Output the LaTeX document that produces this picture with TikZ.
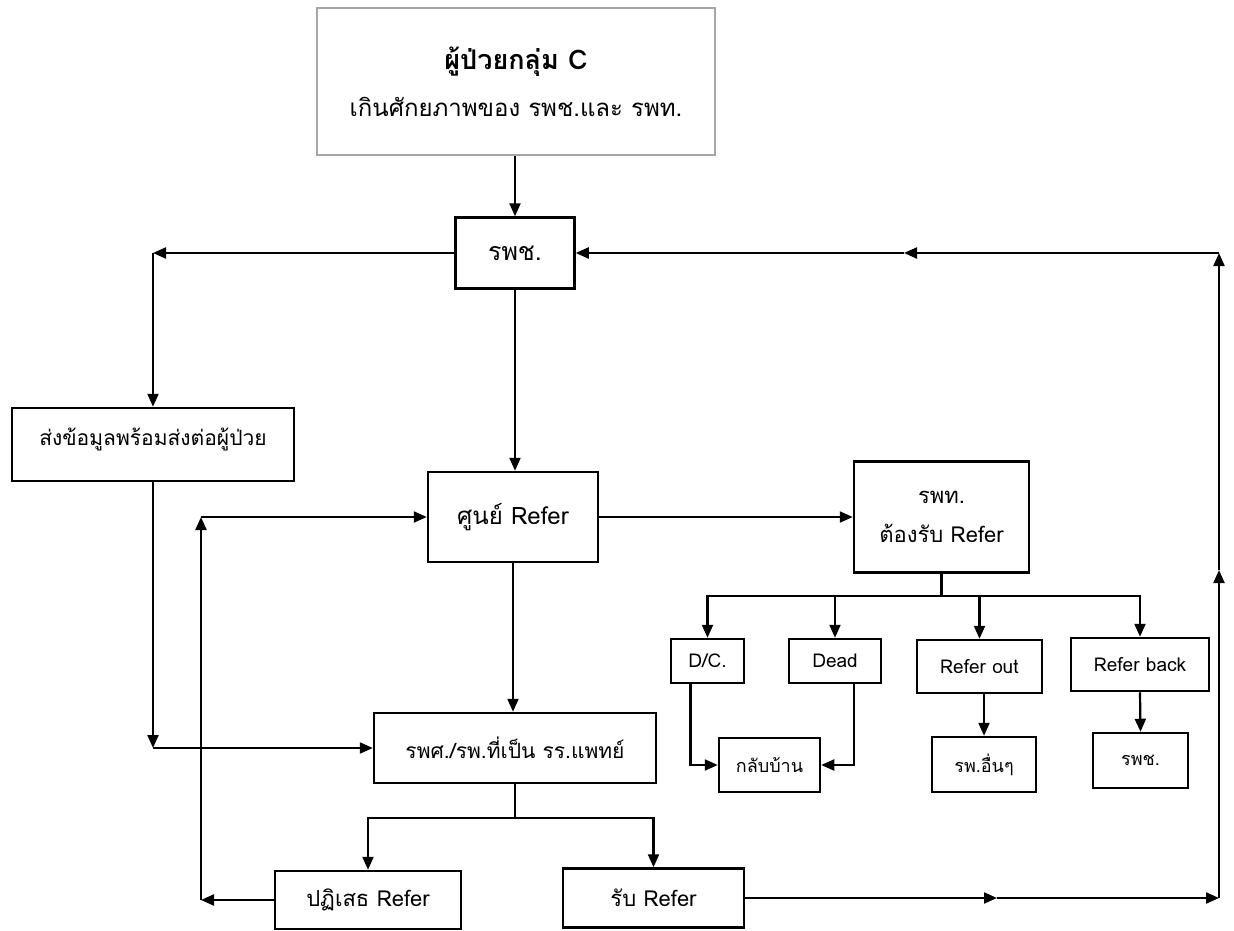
\documentclass[tikz,border=0pt]{standalone}
\usepackage{fontspec}
\setmainfont[Script=Thai]{Loma}
\usetikzlibrary{arrows.meta}

\tikzset{
  box/.style={draw, line width=2.5pt, align=center, inner sep=2pt,
              font=\fontsize{22}{27}\selectfont},
  smallbox/.style={box, font=\fontsize{19}{23}\selectfont},
  thaibox/.style={box, font=\fontsize{18}{22}\selectfont},
}

\begin{document}
\begin{tikzpicture}[x=1pt,y=-1pt]
\useasboundingbox (0,0) rectangle (1234,931);

\begin{scope}[every node/.style={box}]
	\node[draw=gray!70, minimum width=398pt, minimum height=147pt] (top) at (516,81.5)
	  {{\fontsize{27}{32}\selectfont\bfseries ผู้ป่วยกลุ่ม C}\\[20pt] {\fontsize{24}{28}\selectfont เกินศักยภาพของ รพช.และ รพท.}};
	\node[minimum width=119pt, minimum height=71pt, font=\fontsize{25}{30}\selectfont] (rpch) at (515,253) {รพช.};
	\node[minimum width=282pt, minimum height=73pt, text depth=16pt, font=\fontsize{21}{25}\selectfont] (send) at (153,444.5) {ส่งข้อมูลพร้อมส่งต่อผู้ป่วย};
	\node[minimum width=170pt, minimum height=90pt, font=\fontsize{24}{28}\selectfont] (center) at (513,517) {ศูนย์ Refer};
	\node[minimum width=175pt, minimum height=111pt] (rpt) at (941.5,517) {รพท.\\[12pt] ต้องรับ Refer};
	\node[minimum width=282pt, minimum height=70pt, font=\fontsize{21}{25}\selectfont] (rps) at (515,748) {รพศ./รพ.ที่เป็น รร.แพทย์};
	\node[minimum width=186pt, minimum height=58pt] (reject) at (368,900) {ปฏิเสธ Refer};
	\node[minimum width=181pt, minimum height=59pt] (accept) at (653.5,898) {รับ Refer};

	\node[smallbox, minimum width=73pt, minimum height=44pt] (dc) at (707.5,661) {D/C.};
	\node[smallbox, minimum width=92pt, minimum height=44pt] (dead) at (835,661) {Dead};
	\node[smallbox, minimum width=125pt, minimum height=53pt] (rout) at (979.5,666.5) {Refer out};
	\node[smallbox, minimum width=138pt, minimum height=53pt] (rback) at (1140,664.5) {Refer back};
	\node[thaibox, minimum width=101pt, minimum height=54pt] (home) at (769.5,765) {กลับบ้าน};
	\node[thaibox, minimum width=104pt, minimum height=55pt] (other) at (984,764.5) {รพ.อื่นๆ};
	\node[thaibox, minimum width=95pt, minimum height=55pt] (rpchback) at (1140.5,760.5) {รพช.};
\end{scope}

% bends and forks
\coordinate (sendtop) at (rpch.west -| send.north);
\coordinate (sendbot) at (send.south |- rps.west);
\coordinate (rejbend) at (201,900);
\coordinate (rejtop) at (rejbend |- center.west);
\coordinate (rpsfork) at (515,818);
\coordinate (rptfork) at (941.5,596);
\coordinate (rm1) at (997,898);
\coordinate (rc1) at (1219,898);
\coordinate (rm2) at (1219,570);
\coordinate (rc2) at (1219,253);
\coordinate (rm3) at (904,253);

\begin{scope}[line width=2.2pt, >={Triangle[length=13pt,width=11pt]}]
	\draw[->] (top.south -| rpch.north) -- (rpch.north);
	\draw[->] (rpch.west) -- (sendtop);
	\draw[->] (sendtop) -- (send.north);
	\draw[->] (rpch.south) -- (rpch.south |- center.north);
	\draw[->] (send.south) -- (sendbot);
	\draw[->] (sendbot) -- (rps.west);
	\draw[->] (center.south) -- (center.south |- rps.north);
	\draw[->] (center.east) -- (rpt.west);

	\draw (rps.south) -- (rpsfork);
	\draw[->] (rpsfork) -| (reject.north);
	\draw[->] (rpsfork) -| (accept.north);

	\draw[->] (reject.west) -- (rejbend);
	\draw[->] (rejbend) -- (rejtop);
	\draw[->] (rejtop) -- (center.west);

	\draw (rpt.south) -- (rptfork);
	\draw[->] (rptfork) -| (dc.north);
	\draw[->] (rptfork) -| (dead.north);
	\draw[->] (rptfork) -| (rout.north);
	\draw[->] (rptfork) -| (rback.north);

	\draw[->] ([xshift=-17pt]dc.south) |- (home.west);
	\draw[->] ([xshift=19pt]dead.south) |- (home.east);
	\draw[->] (rout.south -| other.north) -- (other.north);
	\draw[->] (rback.south) -- (rpchback.north);

	\draw[->] (accept.east) -- (rm1);
	\draw[->] (rm1) -- (rc1);
	\draw[->] (rc1) -- (rm2);
	\draw[->] (rm2) -- (rc2);
	\draw[->] (rc2) -- (rm3);
	\draw[->] (rm3) -- (rpch.east);
\end{scope}
\end{tikzpicture}
\end{document}
